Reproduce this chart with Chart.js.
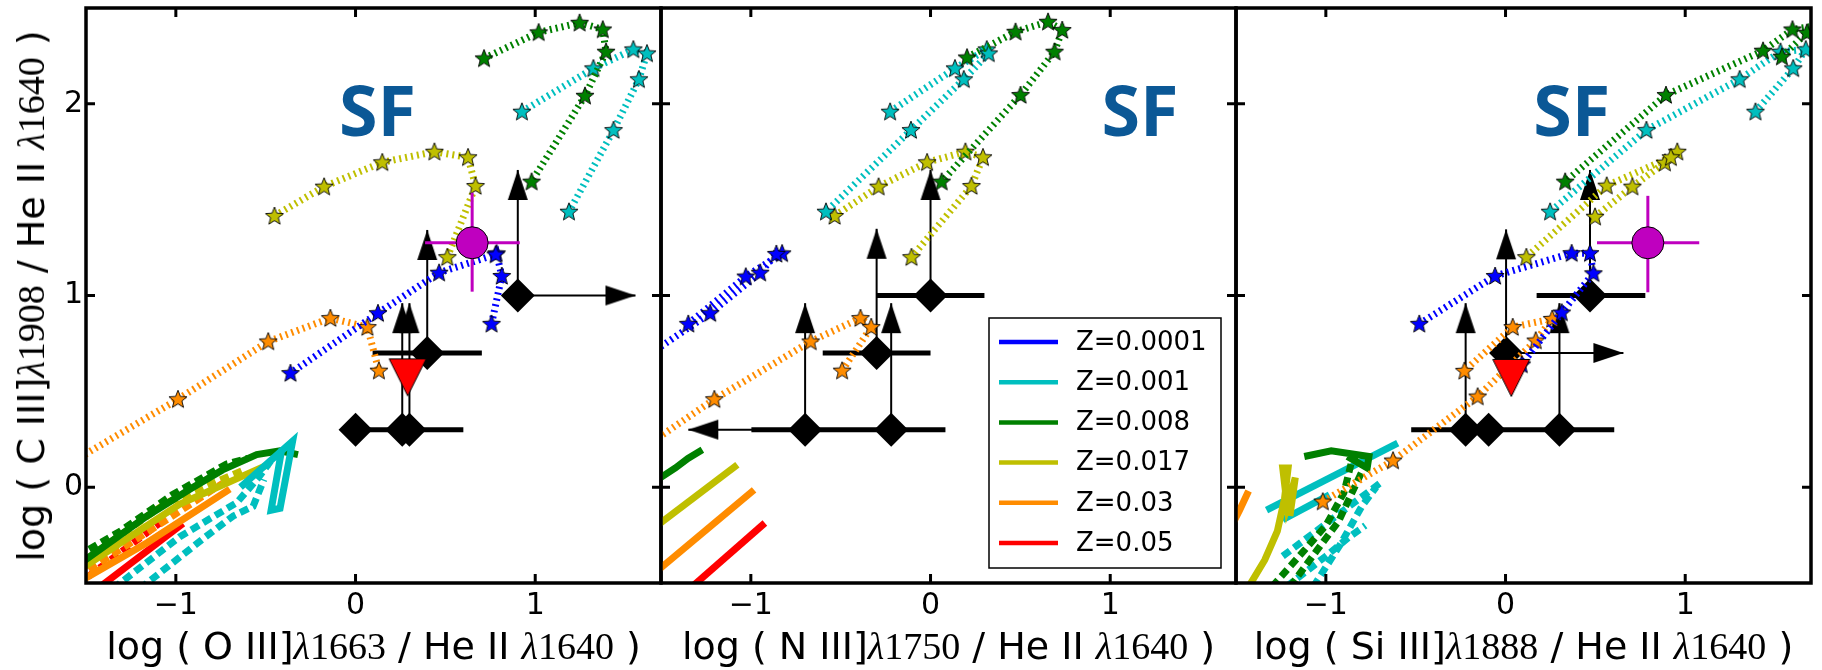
<!DOCTYPE html>
<html>
<head>
<meta charset="utf-8">
<script src="https://cdn.jsdelivr.net/npm/chart.js@4.4.1/dist/chart.umd.min.js"></script>
<style>
  html, body { margin: 0; padding: 0; background: #fff; }
  #wrap { position: relative; width: 1822px; height: 670px; overflow: hidden; }
  canvas { position: absolute; left: 0; top: 0; }
  .lab { position: absolute; white-space: pre; font: 38px "DejaVu Sans"; line-height: 44px; color: #000; }
  .lab .lam { font: italic 38px "Liberation Serif"; }
  .lab .dig { font: 38px "Liberation Serif"; }
  .xl { transform: translateX(-50%); }
  .yl { transform: translate(-50%, -50%) rotate(-90deg); }
</style>
</head>
<body>
<div id="wrap">
  <canvas id="c1" width="1822" height="670"></canvas>
  <canvas id="c2" width="1822" height="670"></canvas>
  <canvas id="c3" width="1822" height="670"></canvas>
</div>
<script>
// axes
const xMin = -1.5, xMax = 1.7, yMin = -0.5, yMax = 2.5;
const xTickVals = [-1, 0, 1];
const yTickVals = [0, 1, 2];

const zLabels = ['Z=0.0001', 'Z=0.001', 'Z=0.008', 'Z=0.017', 'Z=0.03', 'Z=0.05'];
const zColors = ['#0000ff', '#00bfbf', '#008000', '#bfbf00', '#ff8c00', '#ff0000'];
const magenta = '#bf00bf';

// ---- panel 1 : O III] 1663 ----
const oBlue   = [[0.757,0.852],[0.814,1.102],[0.785,1.22],[0.78,1.214],[0.465,1.119],[0.125,0.908],[-0.362,0.595]];
const oCyan   = [[0.926,1.959],[1.324,2.185],[1.546,2.284],[1.622,2.263],[1.577,2.128],[1.436,1.863],[1.188,1.437]];
const oGreen  = [[0.715,2.237],[1.019,2.373],[1.247,2.423],[1.376,2.388],[1.394,2.272],[1.277,2.042],[0.98,1.594]];
const oYellow = [[-0.451,1.415],[-0.175,1.568],[0.149,1.695],[0.439,1.75],[0.626,1.721],[0.668,1.571],[0.511,1.2]];
const oOrange = [[-1.94,-0.078],[-1.563,0.139],[-0.988,0.459],[-0.486,0.76],[-0.14,0.882],[0.066,0.835],[0.13,0.608]];

const oGreenSolid  = [[-1.55,-0.41],[-1.16,-0.15],[-0.92,-0.01],[-0.74,0.09],[-0.55,0.17],[-0.42,0.19],[-0.32,0.17]];
const oGreenDash   = [[-1.55,-0.36],[-1.31,-0.23],[-1.02,-0.04],[-0.72,0.12],[-0.6,0.15]];
const oYellowSolid = [[-1.55,-0.44],[-0.98,-0.09],[-0.48,0.12]];
const oYellowDash  = [[-1.55,-0.41],[-1.05,-0.08],[-0.62,0.09]];
const oOrangeSolid = [[-1.55,-0.5],[-1.16,-0.29],[-0.7,-0.01]];
const oOrangeDash  = [[-1.55,-0.47],[-1.1,-0.2],[-0.74,0.02]];
const oRedSolid    = [[-1.45,-0.54],[-0.96,-0.19]];
const oRedDash     = [[-1.55,-0.51],[-1.05,-0.16]];
const oCyanSolid   = [[-0.64,0.0],[-0.35,0.24],[-0.42,-0.11],[-0.47,-0.12],[-0.41,0.2]];
const oCyanDash1   = [[-1.35,-0.53],[-0.98,-0.26],[-0.66,-0.08],[-0.54,0.05],[-0.47,0.14]];
const oCyanDash2   = [[-1.2,-0.53],[-0.85,-0.27],[-0.68,-0.15],[-0.57,-0.1],[-0.51,0.04]];

const oDiamonds = [[0.903,1.0],[0.399,0.7],[0.0,0.3],[0.26,0.3],[0.30,0.3]];
const oBars     = [[0.095,0.703,0.7],[0.0,0.6,0.3]];              // x from, x to, y
const oUp       = [[0.903,1.0,1.655],[0.399,0.7,1.342],[0.26,0.3,0.96],[0.30,0.3,0.96]]; // x, y from, y to
const oSide     = [[1.0,0.903,1.558]];                            // y, x from, x to
const oCircle   = [0.649,1.275];
const oCircleX  = [0.387,0.914];
const oCircleY  = [1.02,1.536];
const oTriangle = [0.29,0.573];

// ---- panel 2 : N III] 1750 ----
const nBlue   = [[-1.348,0.852],[-1.028,1.099],[-0.826,1.22],[-0.858,1.217],[-0.948,1.119],[-1.226,0.908],[-1.72,0.595]];
const nCyan   = [[-0.225,1.959],[0.136,2.185],[0.313,2.284],[0.324,2.263],[0.185,2.128],[-0.109,1.863],[-0.582,1.437]];
const nGreen  = [[0.203,2.242],[0.473,2.376],[0.654,2.428],[0.733,2.385],[0.69,2.272],[0.501,2.046],[0.062,1.594]];
const nYellow = [[-0.534,1.415],[-0.289,1.568],[-0.019,1.695],[0.194,1.75],[0.292,1.721],[0.228,1.571],[-0.106,1.2]];
const nOrange = [[-2.0,-0.078],[-1.7,0.139],[-1.203,0.459],[-0.667,0.76],[-0.39,0.882],[-0.33,0.835],[-0.492,0.608]];

const nGreenSolid  = [[-1.55,0.02],[-1.42,0.1],[-1.35,0.15],[-1.27,0.195]];
const nYellowSolid = [[-1.55,-0.22],[-1.075,0.117]];
const nOrangeSolid = [[-1.55,-0.46],[-0.982,-0.014]];
const nRedSolid    = [[-1.34,-0.53],[-0.922,-0.187]];

const nDiamonds = [[0.0,1.0],[-0.3,0.7],[-0.698,0.3],[-0.219,0.3]];
const nBars     = [[-0.3,0.3,1.0],[-0.6,0.0,0.7],[-0.997,0.083,0.3]];
const nUp       = [[0.0,1.0,1.655],[-0.3,0.7,1.348],[-0.698,0.3,0.96],[-0.219,0.3,0.96]];
const nSide     = [[0.3,-0.698,-1.348]];

// ---- panel 3 : Si III] 1888 ----
const sBlue   = [[-0.48,0.852],[-0.058,1.102],[0.368,1.221],[0.47,1.221],[0.489,1.116],[0.313,0.911],[0.09,0.64]];
const sCyan   = [[1.391,1.959],[1.601,2.185],[1.671,2.284],[1.53,2.272],[1.303,2.128],[0.784,1.863],[0.248,1.437]];
const sGreen  = [[1.538,2.246],[1.677,2.371],[1.85,2.425],[1.597,2.388],[1.433,2.277],[0.893,2.046],[0.332,1.594]];
const sYellow = [[0.498,1.411],[0.706,1.568],[0.887,1.693],[0.956,1.75],[0.92,1.721],[0.563,1.573],[0.116,1.2]];
const sOrange = [[-1.017,-0.075],[-0.626,0.139],[-0.155,0.473],[0.168,0.765],[0.26,0.878],[0.04,0.835],[-0.229,0.607]];

const sCyanSolid1  = [[-1.33,-0.12],[-0.6,0.23]];
const sCyanSolid2  = [[-1.24,-0.17],[-0.98,-0.04]];
const sCyanDash1   = [[-1.24,-0.36],[-0.97,-0.17],[-0.7,0.02]];
const sCyanDash2   = [[-1.22,-0.52],[-1.0,-0.36],[-0.87,-0.26],[-0.78,-0.2]];
const sCyanDash3   = [[-1.07,-0.52],[-0.92,-0.3],[-0.8,-0.1],[-0.72,0.0]];
const sGreenDash1  = [[-1.3,-0.52],[-1.12,-0.33],[-1.0,-0.2],[-0.9,-0.03],[-0.86,0.12]];
const sGreenDash2  = [[-1.2,-0.52],[-1.05,-0.33],[-0.93,-0.18],[-0.85,-0.02],[-0.8,0.08]];
const sGreenSolid  = [[-1.12,0.16],[-0.97,0.19],[-0.76,0.16],[-0.77,0.1],[-0.88,0.16]];
const sYellowSolid = [[-1.43,-0.52],[-1.34,-0.38],[-1.27,-0.23],[-1.23,-0.06],[-1.21,0.1],[-1.24,0.1],[-1.215,-0.1],[-1.17,0.05],[-1.2,-0.15]];
const sOrangeSolid = [[-1.55,-0.25],[-1.48,-0.12],[-1.43,-0.02]];

const sDiamonds = [[0.47,1.0],[0.003,0.7],[-0.222,0.3],[-0.094,0.3],[0.3,0.3]];
const sBars     = [[0.173,0.778,1.0],[-0.525,0.605,0.3]];
const sUp       = [[0.47,1.0,1.655],[0.003,0.7,1.345],[-0.222,0.3,0.96],[0.3,0.3,0.96]];
const sSide     = [[0.7,0.003,0.656]];
const sCircle   = [0.792,1.275];
const sCircleX  = [0.509,1.078];
const sCircleY  = [1.017,1.52];
const sTriangle = [0.032,0.57];

// "SF" label anchors (baseline centre, data units)
const sfPos = [[0.122,1.832],[1.166,1.832],[0.368,1.832]];

// ---------- marker images ----------
const starCache = {};
function starImg(color) {
  if (starCache[color]) return starCache[color];
  const c = document.createElement('canvas');
  c.width = 22; c.height = 22;
  const g = c.getContext('2d');
  g.beginPath();
  for (let i = 0; i < 10; i++) {
    const r = i % 2 ? 4.1 : 9.5;
    const a = -Math.PI / 2 + i * Math.PI / 5;
    g.lineTo(11 + r * Math.cos(a), 11.5 + r * Math.sin(a));
  }
  g.closePath();
  g.fillStyle = color; g.fill();
  g.lineWidth = 0.9; g.strokeStyle = '#000'; g.stroke();
  starCache[color] = c;
  return c;
}
// arrow head, tip at the image centre, pointing up
const headImg = (() => {
  const c = document.createElement('canvas');
  c.width = 22; c.height = 64;
  const g = c.getContext('2d');
  g.beginPath(); g.moveTo(11, 32); g.lineTo(21, 62); g.lineTo(1, 62); g.closePath();
  g.fillStyle = '#000'; g.fill();
  return c;
})();
const triImg = (() => {
  const c = document.createElement('canvas');
  c.width = 40; c.height = 40;
  const g = c.getContext('2d');
  g.beginPath(); g.moveTo(1.5, 1.5); g.lineTo(38.5, 1.5); g.lineTo(20, 38.5); g.closePath();
  g.fillStyle = '#ff0000'; g.fill();
  g.lineWidth = 1; g.strokeStyle = '#000'; g.stroke();
  return c;
})();

// ---------- dataset helpers ----------
const pts = arr => arr.map(([x, y]) => ({ x, y }));

function modelLine(arr, color, dashed) {
  return { data: pts(arr), showLine: true, borderColor: color, borderWidth: 7,
    borderDash: dashed ? [9, 5] : [], pointRadius: 0, clip: 0 };
}
function starTrack(arr, color) {
  return { data: pts(arr), showLine: true, borderColor: color, borderWidth: 7,
    borderDash: [2, 4], pointStyle: starImg(color), pointRadius: 9, clip: 0 };
}
function seg(a, b, color, width) {
  return { data: [a, b], showLine: true, borderColor: color, borderWidth: width, pointRadius: 0, clip: 0 };
}

function obsDatasets(diamonds, bars, ups, sides) {
  const ds = [];
  bars.forEach(([x0, x1, y]) => ds.push(seg({ x: x0, y }, { x: x1, y }, '#000', 5)));
  ups.forEach(([x, y0, y1]) => ds.push(seg({ x, y: y0 }, { x, y: y1 }, '#000', 2)));
  sides.forEach(([y, x0, x1]) => ds.push(seg({ x: x0, y }, { x: x1, y }, '#000', 2)));
  ds.push({ data: ups.map(([x, , y1]) => ({ x, y: y1 })), pointStyle: headImg,
    pointRotation: 0, pointRadius: 10, clip: 0 });
  ds.push({ data: sides.map(([y, , x1]) => ({ x: x1, y })), pointStyle: headImg,
    pointRotation: sides.map(([, x0, x1]) => (x1 > x0 ? 90 : -90)), pointRadius: 10, clip: 0 });
  ds.push({ data: pts(diamonds), pointStyle: 'rectRot', pointRadius: 17, pointBackgroundColor: '#000',
    pointBorderColor: '#000', pointBorderWidth: 0, clip: 0 });
  return ds;
}
function topObs(circle, cx, cy, tri) {
  const ds = [];
  ds.push({ data: [{ x: tri[0], y: tri[1] }], pointStyle: triImg, pointRadius: 18, clip: 0 });
  ds.push(seg({ x: cx[0], y: circle[1] }, { x: cx[1], y: circle[1] }, magenta, 3));
  ds.push(seg({ x: circle[0], y: cy[0] }, { x: circle[0], y: cy[1] }, magenta, 3));
  ds.push({ data: [{ x: circle[0], y: circle[1] }], pointStyle: 'circle', pointRadius: 16,
    pointBackgroundColor: magenta, pointBorderColor: '#000', pointBorderWidth: 1, clip: 0 });
  return ds;
}

const [cBlue, cCyan, cGreen, cYellow, cOrange, cRed] = zColors;

// bottom -> top
const panel1 = [
  modelLine(oRedDash, cRed, true), modelLine(oRedSolid, cRed, false),
  modelLine(oOrangeDash, cOrange, true), modelLine(oOrangeSolid, cOrange, false),
  modelLine(oYellowDash, cYellow, true), modelLine(oYellowSolid, cYellow, false),
  modelLine(oGreenDash, cGreen, true), modelLine(oGreenSolid, cGreen, false),
  modelLine(oCyanDash1, cCyan, true), modelLine(oCyanDash2, cCyan, true), modelLine(oCyanSolid, cCyan, false),
  ...obsDatasets(oDiamonds, oBars, oUp, oSide),
  starTrack(oOrange, cOrange), starTrack(oBlue, cBlue), starTrack(oYellow, cYellow),
  starTrack(oCyan, cCyan), starTrack(oGreen, cGreen),
  ...topObs(oCircle, oCircleX, oCircleY, oTriangle)
];
const panel2 = [
  modelLine(nRedSolid, cRed, false), modelLine(nOrangeSolid, cOrange, false),
  modelLine(nYellowSolid, cYellow, false), modelLine(nGreenSolid, cGreen, false),
  ...obsDatasets(nDiamonds, nBars, nUp, nSide),
  starTrack(nOrange, cOrange), starTrack(nBlue, cBlue), starTrack(nYellow, cYellow),
  starTrack(nCyan, cCyan), starTrack(nGreen, cGreen)
];
const panel3 = [
  modelLine(sCyanDash1, cCyan, true), modelLine(sCyanDash2, cCyan, true), modelLine(sCyanDash3, cCyan, true),
  modelLine(sCyanSolid1, cCyan, false), modelLine(sCyanSolid2, cCyan, false),
  modelLine(sGreenDash1, cGreen, true), modelLine(sGreenDash2, cGreen, true), modelLine(sGreenSolid, cGreen, false),
  modelLine(sYellowSolid, cYellow, false), modelLine(sOrangeSolid, cOrange, false),
  ...obsDatasets(sDiamonds, sBars, sUp, sSide),
  starTrack(sOrange, cOrange), starTrack(sBlue, cBlue), starTrack(sYellow, cYellow),
  starTrack(sCyan, cCyan), starTrack(sGreen, cGreen),
  ...topObs(sCircle, sCircleX, sCircleY, sTriangle)
];

// ---------- axis titles (html text, mixed fonts) ----------
function labelHtml(ion, wl) {
  return 'log ( ' + ion + '<span class="lam">\u03bb</span><span class="dig">' + wl + '</span>' +
    ' / He II <span class="lam">\u03bb</span><span class="dig">1640</span> )';
}
function addLabel(html, cls, left, top) {
  const d = document.createElement('div');
  d.className = 'lab ' + cls;
  d.innerHTML = html;
  d.style.left = left + 'px';
  d.style.top = top + 'px';
  document.getElementById('wrap').appendChild(d);
}

function decor(cfg) {
  return {
    id: 'decor',
    beforeDatasetsDraw(chart) {
      const { ctx, scales: { x, y } } = chart;
      ctx.save();
      ctx.fillStyle = '#0b5896';
      ctx.font = '700 70px "Open Sans"';
      ctx.textAlign = 'center'; ctx.textBaseline = 'alphabetic';
      ctx.fillText('SF', x.getPixelForValue(cfg.sf[0]), y.getPixelForValue(cfg.sf[1]));
      ctx.restore();
    },
    afterDraw(chart) {
      const { ctx, chartArea: a, scales: { x, y } } = chart;
      ctx.save();
      ctx.strokeStyle = '#000';
      ctx.lineWidth = 3;
      ctx.beginPath();
      xTickVals.forEach(v => {
        const px = x.getPixelForValue(v);
        ctx.moveTo(px, a.bottom); ctx.lineTo(px, a.bottom - 9);
        ctx.moveTo(px, a.top); ctx.lineTo(px, a.top + 9);
      });
      yTickVals.forEach(v => {
        const py = y.getPixelForValue(v);
        ctx.moveTo(a.left, py); ctx.lineTo(a.left + 9, py);
        ctx.moveTo(a.right, py); ctx.lineTo(a.right - 9, py);
      });
      ctx.stroke();
      ctx.lineWidth = 3.5;
      ctx.strokeRect(a.left, a.top, a.right - a.left, a.bottom - a.top);

      if (cfg.legend) {
        const w = 232, h = 250;
        const lx = a.right - 15 - w, ly = a.bottom - 15 - h;
        ctx.fillStyle = '#fff'; ctx.fillRect(lx, ly, w, h);
        ctx.lineWidth = 1.5; ctx.strokeStyle = '#000'; ctx.strokeRect(lx, ly, w, h);
        ctx.font = '26px "DejaVu Sans"'; ctx.textBaseline = 'middle'; ctx.textAlign = 'left';
        zLabels.forEach((lab, i) => {
          const cy = ly + 24 + i * 40.2;
          ctx.strokeStyle = zColors[i]; ctx.lineWidth = 4.5;
          ctx.beginPath(); ctx.moveTo(lx + 10, cy); ctx.lineTo(lx + 69, cy); ctx.stroke();
          ctx.fillStyle = '#000'; ctx.fillText(lab, lx + 87, cy + 1);
        });
      }
      ctx.restore();
    }
  };
}

const tickFmt = v => (v < 0 ? '\u2212' + Math.abs(v) : String(v));

function makeChart(id, datasets, padL, padR, showY, cfg) {
  const chart = new Chart(document.getElementById(id), {
    type: 'scatter',
    data: { datasets: datasets.slice().reverse() },
    options: {
      responsive: false,
      animation: false,
      events: [],
      layout: { autoPadding: false, padding: { left: padL, right: padR, top: 8, bottom: 0 } },
      plugins: { legend: { display: false }, tooltip: { enabled: false } },
      scales: {
        x: {
          type: 'linear', min: xMin, max: xMax,
          afterBuildTicks: s => { s.ticks = xTickVals.map(v => ({ value: v })); },
          afterFit: s => { s.height = 87; s.paddingLeft = 0; s.paddingRight = 0; },
          grid: { display: false, drawTicks: false },
          border: { display: false },
          ticks: { padding: 5, color: '#000', font: { family: 'DejaVu Sans', size: 30 },
            maxRotation: 0, autoSkip: false, callback: tickFmt }
        },
        y: {
          type: 'linear', min: yMin, max: yMax, display: showY,
          afterBuildTicks: s => { s.ticks = yTickVals.map(v => ({ value: v })); },
          afterFit: s => {
            s.width = showY ? 86 : 0;
            s.paddingTop = 0; s.paddingBottom = 0;
          },
          grid: { display: false, drawTicks: false },
          border: { display: false },
          ticks: { padding: 3, color: '#000', font: { family: 'DejaVu Sans', size: 30 }, callback: tickFmt }
        }
      }
    },
    plugins: [decor(cfg)]
  });
  const a = chart.chartArea;
  addLabel(cfg.xLabel, 'xl', (a.left + a.right) / 2, a.bottom + 41);
  if (cfg.yLabel) addLabel(cfg.yLabel, 'yl', 31, (a.top + a.bottom) / 2);
  return chart;
}

makeChart('c1', panel1, 0, 1822 - 661, true,
  { sf: sfPos[0], legend: false, xLabel: labelHtml('O III]', '1663'), yLabel: labelHtml('C III]', '1908') });
makeChart('c2', panel2, 661, 1822 - 1236, false,
  { sf: sfPos[1], legend: true, xLabel: labelHtml('N III]', '1750'), yLabel: null });
makeChart('c3', panel3, 1236, 11, false,
  { sf: sfPos[2], legend: false, xLabel: labelHtml('Si III]', '1888'), yLabel: null });
</script>
</body>
</html>
